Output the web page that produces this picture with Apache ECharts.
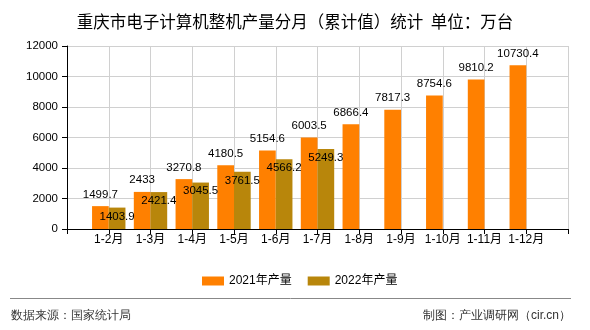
<!DOCTYPE html>
<html>
<head>
<meta charset="utf-8">
<script src="https://cdn.jsdelivr.net/npm/echarts@6/dist/echarts.min.js"></script>
<style>html,body{margin:0;padding:0;background:#fff}#c{width:590px;height:330px}</style>
</head>
<body>
<div id="c"></div>
<script>
var months = ['1-2月','1-3月','1-4月','1-5月','1-6月','1-7月','1-8月','1-9月','1-10月','1-11月','1-12月'];
var v2021 = [1499.7, 2433, 3270.8, 4180.5, 5154.6, 6003.5, 6866.4, 7817.3, 8754.6, 9810.2, 10730.4];
var v2022 = [1403.9, 2421.4, 3045.5, 3761.5, 4566.2, 5249.3];
var seriesNames = ['2021年产量', '2022年产量'];
var yTicks = [0, 2000, 4000, 6000, 8000, 10000, 12000];

var FONT = "'Liberation Sans','Noto Sans CJK SC',sans-serif";
var cats = [''].concat(months).concat(['']);
function pad(arr) {
  var out = ['-'].concat(arr);
  while (out.length < cats.length) out.push('-');
  return out;
}

var chart = echarts.init(document.getElementById('c'), null, {renderer: 'canvas'});
chart.setOption({
  animation: false,
  backgroundColor: '#fff',
  textStyle: {fontFamily: FONT},
  title: {
    text: '重庆市电子计算机整机产量分月（累计值）统计  单位：万台',
    left: 'center', top: 8,
    textStyle: {fontSize: 16.5, fontWeight: 'normal', color: '#000', fontFamily: "'Noto Sans CJK SC',sans-serif"}
  },
  legend: {
    left: 197, top: 270, icon: 'rect',
    itemWidth: 22, itemHeight: 9, itemGap: 16,
    textStyle: {fontSize: 12, color: '#000', fontFamily: FONT},
    data: seriesNames
  },
  grid: {left: 67, right: 22, top: 46, bottom: 101, containLabel: false},
  xAxis: {
    type: 'category',
    data: cats,
    boundaryGap: false,
    axisLine: {lineStyle: {color: '#000'}},
    axisTick: {show: true, interval: 0, length: 5, lineStyle: {color: '#000'}},
    axisLabel: {interval: 0, margin: 5, fontSize: 12, color: '#000', fontFamily: FONT},
    splitLine: {show: true, interval: 0, lineStyle: {color: '#d0d0d0'}}
  },
  yAxis: {
    type: 'value',
    min: yTicks[0], max: yTicks[yTicks.length - 1], interval: 2000,
    axisLine: {show: true, lineStyle: {color: '#000'}},
    axisTick: {show: true, length: 5, lineStyle: {color: '#000'}},
    axisLabel: {margin: 9, fontSize: 11.5, color: '#000', fontFamily: FONT, formatter: function (v) { return String(v); }},
    splitLine: {show: true, lineStyle: {color: '#d0d0d0'}}
  },
  series: [
    {
      name: seriesNames[0], type: 'bar', data: pad(v2021),
      barWidth: '40%', barGap: '0%',
      itemStyle: {color: '#ff8000'},
      label: {show: true, position: 'top', distance: 6, fontSize: 11.5, color: '#000', fontFamily: FONT}
    },
    {
      name: seriesNames[1], type: 'bar', data: pad(v2022),
      barWidth: '40%', barGap: '0%',
      itemStyle: {color: '#b8860b'},
      label: {show: true, position: 'insideTop', distance: 3, fontSize: 11.5, color: '#000', fontFamily: FONT}
    }
  ],
  graphic: [
    {type: 'line', shape: {x1: 10, y1: 298.5, x2: 571, y2: 298.5}, style: {stroke: '#888', lineWidth: 1}},
    {type: 'text', left: 11, top: 310, style: {text: '数据来源：国家统计局', fontSize: 12, fill: '#333', font: "12px 'Noto Sans CJK SC',sans-serif"}},
    {type: 'text', right: 19, top: 310, style: {text: '制图：产业调研网（cir.cn）', fontSize: 12, fill: '#333', font: "12px 'Noto Sans CJK SC',sans-serif"}}
  ]
});
</script>
</body>
</html>
